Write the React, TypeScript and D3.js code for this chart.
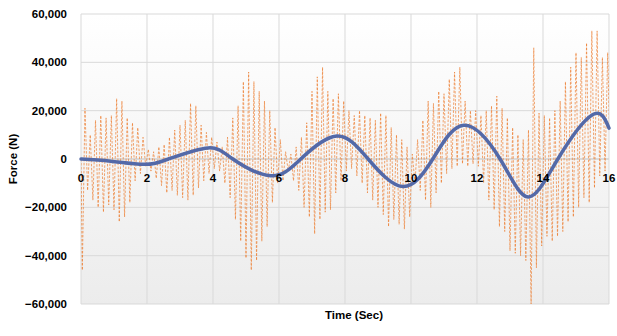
import { useRef, useEffect } from 'react';
import * as d3 from 'd3';

const WIDTH = 617;
const HEIGHT = 336;

// high-frequency force trace: trough and peak of each cycle (kN), one cycle every 0.16 s
const CYCLE_SEC = 0.16;
const cycleLows = [
  -46, -13, -17, -20, -22, -19, -21, -26, -24, -18, -9, -6, -3,
  -5, -8, -11, -14, -13, -15, -16, -17, -15, -12, -9, -6, -4,
  -5, -10, -16, -25, -34, -41, -46, -42, -34, -28, -18, -10,
  -9, -5, -9, -13, -20, -24, -31, -25, -22, -21, -14, -9, -5,
  -4, -7, -10, -14, -17, -20, -23, -28, -25, -27, -29, -24,
  -10, -13, -17, -20, -14, -10, -6, -4, -3, -2, -3, -2, -3,
  -10, -17, -21, -28, -30, -38, -39, -40, -42, -60, -45, -36,
  -32, -34, -32, -30, -26, -24, -20, -16, -18, -12, -7, -5, -3,
];
const cycleHighs = [
  21, 10, 16, 18, 17, 18, 25, 24, 17, 15, 13, 9, 4,
  3, 5, 6, 9, 12, 14, 16, 23, 22, 14, 11, 9, 7,
  5, 9, 17, 22, 32, 36, 32, 28, 24, 20, 13, 8,
  3, 2, 5, 9, 15, 28, 34, 38, 28, 25, 27, 24, 20,
  18, 20, 18, 17, 16, 19, 18, 13, 10, 8, 5, 2,
  8, 16, 24, 23, 28, 27, 33, 36, 38, 24, 20, 20, 18,
  20, 22, 26, 21, 17, 13, 10, 8, 12, 46, 19, 18,
  17, 20, 24, 32, 38, 44, 42, 48, 53, 53, 42, 44, 36,
];

// smooth low-frequency component: extremes and zero crossings
const smoothTime = [0, 0.9, 1.9, 2.65, 3.85, 4.6, 5.75, 6.66, 7.75, 8.7, 9.75, 10.66, 11.6, 12.7, 13.55, 14.45, 15.5, 16];
const smoothForce = [0, -900, -2200, 0, 4600, 0, -6900, 0, 9500, 0, -11400, 0, 14000, 0, -15700, 0, 18300, 12800];

const xTicks = [0, 2, 4, 6, 8, 10, 12, 14, 16];
const yTicks = [-60000, -40000, -20000, 0, 20000, 40000, 60000];

const FONT = '"Liberation Sans", Arial, sans-serif';

export default function App() {
  const svgRef = useRef<SVGSVGElement>(null);

  useEffect(() => {
    if (!svgRef.current) return;
    const svg = d3.select(svgRef.current);
    svg.selectAll('*').remove();

    const margin = { top: 14, right: 8, bottom: 32, left: 81 };
    const w = WIDTH - margin.left - margin.right;
    const h = HEIGHT - margin.top - margin.bottom;

    const x = d3.scaleLinear().domain([0, 16]).range([0, w]);
    const y = d3.scaleLinear().domain([-60000, 60000]).range([h, 0]);

    const defs = svg.append('defs');
    const grad = defs
      .append('linearGradient')
      .attr('id', 'plotBg')
      .attr('x1', 0)
      .attr('y1', 0)
      .attr('x2', 0)
      .attr('y2', 1);
    grad.append('stop').attr('offset', '0%').attr('stop-color', '#ffffff');
    grad.append('stop').attr('offset', '100%').attr('stop-color', '#ececec');
    defs
      .append('clipPath')
      .attr('id', 'plotClip')
      .append('rect')
      .attr('width', w)
      .attr('height', h);

    const g = svg.append('g').attr('transform', `translate(${margin.left},${margin.top})`);

    g.append('rect').attr('width', w).attr('height', h).attr('fill', 'url(#plotBg)');

    // Grid
    g.selectAll('.grid-y')
      .data(yTicks)
      .enter()
      .append('line')
      .attr('x1', 0)
      .attr('x2', w)
      .attr('y1', (d) => y(d))
      .attr('y2', (d) => y(d))
      .attr('stroke', (d) => (d === 0 ? '#bfbfbf' : '#d9d9d9'))
      .attr('stroke-width', 1);

    g.selectAll('.grid-x')
      .data(xTicks)
      .enter()
      .append('line')
      .attr('x1', (d) => x(d))
      .attr('x2', (d) => x(d))
      .attr('y1', 0)
      .attr('y2', h)
      .attr('stroke', '#d9d9d9')
      .attr('stroke-width', 1);

    // Orange oscillating trace
    const trace: [number, number][] = [[0, 0]];
    cycleLows.forEach((lo, i) => {
      trace.push([i * CYCLE_SEC + 0.04, lo * 1000]);
      trace.push([i * CYCLE_SEC + 0.12, cycleHighs[i] * 1000]);
    });

    const line = d3
      .line<[number, number]>()
      .x((d) => x(d[0]))
      .y((d) => y(d[1]));

    g.append('path')
      .datum(trace)
      .attr('clip-path', 'url(#plotClip)')
      .attr('d', line)
      .attr('fill', 'none')
      .attr('stroke', '#ED7D31')
      .attr('stroke-opacity', 0.7)
      .attr('stroke-width', 1)
      .attr('stroke-dasharray', '2.5 1.5');

    // Smooth blue curve
    const smooth = smoothTime.map((t, i) => [t, smoothForce[i]] as [number, number]);
    g.append('path')
      .datum(smooth)
      .attr('d', line.curve(d3.curveNatural))
      .attr('fill', 'none')
      .attr('stroke', '#5369A8')
      .attr('stroke-width', 3.5)
      .attr('stroke-linecap', 'round');

    // Tick labels
    g.selectAll('.ylab')
      .data(yTicks)
      .enter()
      .append('text')
      .attr('x', -14)
      .attr('y', (d) => y(d))
      .attr('dy', '0.35em')
      .attr('text-anchor', 'end')
      .attr('font-family', FONT)
      .attr('font-weight', 'bold')
      .attr('font-size', 11.5)
      .attr('fill', '#000')
      .text((d) => d3.format(',')(d));

    g.selectAll('.xlab')
      .data(xTicks)
      .enter()
      .append('text')
      .attr('x', (d) => x(d))
      .attr('y', y(0) + 23)
      .attr('text-anchor', 'middle')
      .attr('font-family', FONT)
      .attr('font-weight', 'bold')
      .attr('font-size', 11.5)
      .attr('fill', '#000')
      .text((d) => d);

    // Axis titles
    svg
      .append('text')
      .attr('x', margin.left + w / 2 + 9)
      .attr('y', HEIGHT - 17)
      .attr('text-anchor', 'middle')
      .attr('font-family', FONT)
      .attr('font-weight', 'bold')
      .attr('font-size', 11.5)
      .attr('fill', '#000')
      .text('Time (Sec)');

    svg
      .append('text')
      .attr('transform', `translate(17, ${margin.top + h / 2}) rotate(-90)`)
      .attr('text-anchor', 'middle')
      .attr('font-family', FONT)
      .attr('font-weight', 'bold')
      .attr('font-size', 11.5)
      .attr('fill', '#000')
      .text('Force (N)');
  }, []);

  return (
    <div style={{ position: 'absolute', left: 0, top: 0, width: WIDTH, height: HEIGHT, background: '#fff' }}>
      <svg ref={svgRef} width={WIDTH} height={HEIGHT} />
    </div>
  );
}
